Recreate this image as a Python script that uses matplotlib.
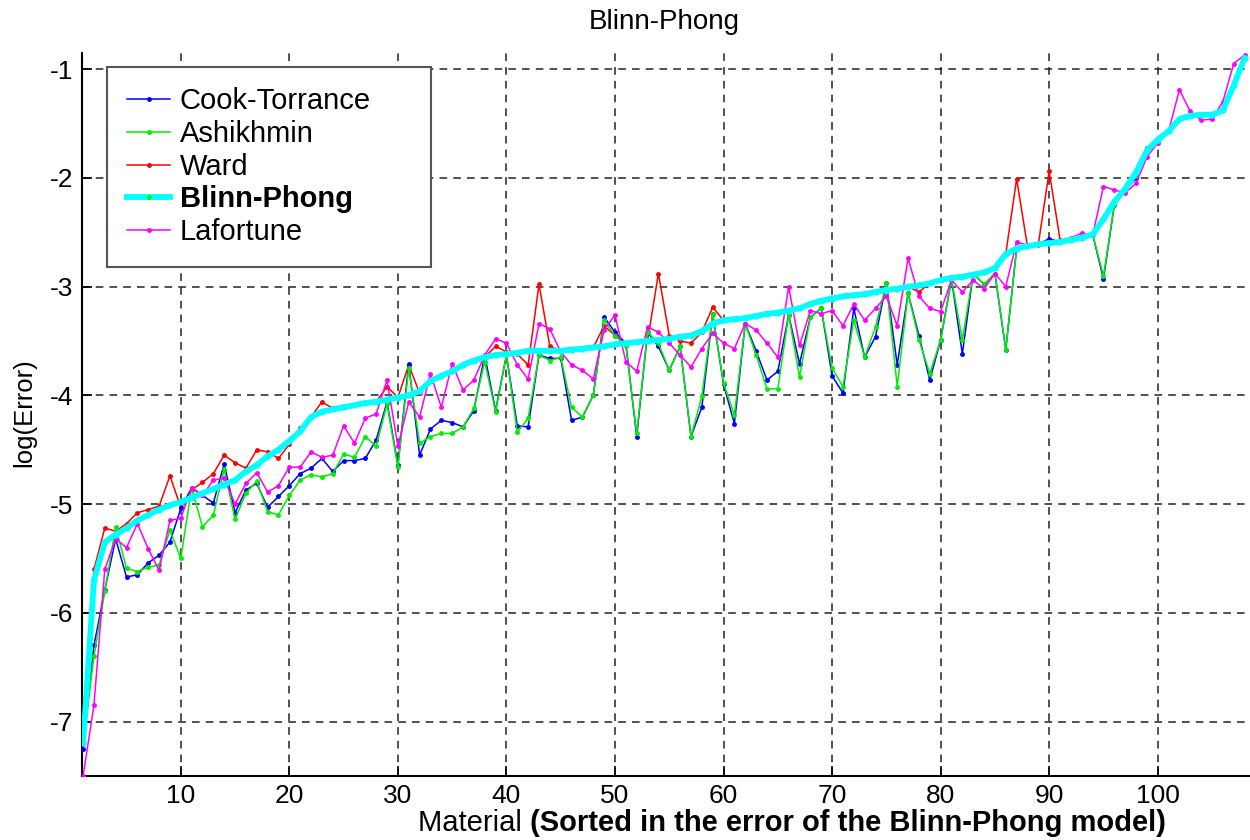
import matplotlib
matplotlib.use("Agg")
import matplotlib.pyplot as plt
from matplotlib.lines import Line2D
import numpy as np

plt.rcParams['font.family'] = ['Liberation Sans', 'DejaVu Sans']
plt.rcParams['axes.unicode_minus'] = False

# materiales ordenados por el error de Blinn-Phong
material = np.arange(1, 109)

cook_torrance = [
    -7.25, -6.30, -5.79, -5.32, -5.67, -5.65, -5.54, -5.47, -5.35, -5.04,
    -4.85, -4.92, -4.99, -4.63, -5.08, -4.87, -4.81, -5.03, -4.93, -4.83,
    -4.72, -4.67, -4.58, -4.70, -4.60, -4.60, -4.58, -4.41, -4.06, -4.64,
    -3.71, -4.55, -4.31, -4.23, -4.25, -4.29, -4.14, -3.63, -4.14, -3.63,
    -4.28, -4.29, -3.63, -3.66, -3.66, -4.23, -4.20, -4.00, -3.28, -3.42,
    -3.52, -4.38, -3.42, -3.55, -3.77, -3.55, -4.38, -4.11, -3.25, -3.90,
    -4.26, -3.34, -3.59, -3.86, -3.78, -3.26, -3.71, -3.28, -3.20, -3.82,
    -3.98, -3.20, -3.65, -3.46, -2.97, -3.72, -3.06, -3.45, -3.86, -3.49,
    -2.93, -3.62, -2.88, -2.98, -2.88, -3.58, -2.65, -2.63, -2.61, -2.56,
    -2.59, -2.57, -2.55, -2.52, -2.93, -2.25, -2.12, -2.00, -1.73, -1.65,
    -1.57, -1.46, -1.43, -1.42, -1.42, -1.38, -1.15, -0.90,
]

ashikhmin = [
    -7.20, -6.40, -5.80, -5.21, -5.59, -5.62, -5.58, -5.56, -5.24, -5.50,
    -4.85, -5.21, -5.10, -4.68, -5.14, -4.90, -4.79, -5.07, -5.10, -4.92,
    -4.78, -4.73, -4.75, -4.72, -4.54, -4.57, -4.38, -4.47, -4.08, -4.66,
    -3.75, -4.44, -4.38, -4.35, -4.35, -4.29, -4.12, -3.69, -4.15, -3.63,
    -4.34, -4.21, -3.63, -3.68, -3.65, -4.11, -4.20, -4.00, -3.31, -3.45,
    -3.55, -4.35, -3.42, -3.52, -3.77, -3.55, -4.38, -4.01, -3.25, -3.89,
    -4.18, -3.34, -3.63, -3.94, -3.94, -3.26, -3.83, -3.28, -3.20, -3.75,
    -3.92, -3.31, -3.65, -3.37, -2.97, -3.92, -3.06, -3.49, -3.80, -3.49,
    -2.93, -3.49, -2.88, -2.98, -2.88, -3.58, -2.65, -2.63, -2.61, -2.60,
    -2.59, -2.57, -2.55, -2.52, -2.90, -2.25, -2.12, -1.98, -1.73, -1.65,
    -1.57, -1.46, -1.43, -1.42, -1.42, -1.38, -1.15, -0.90,
]

ward = [
    -7.10, -5.60, -5.22, -5.25, -5.18, -5.08, -5.05, -5.02, -4.74, -5.03,
    -4.87, -4.80, -4.72, -4.55, -4.62, -4.67, -4.50, -4.52, -4.58, -4.45,
    -4.30, -4.20, -4.06, -4.12, -4.11, -4.09, -4.07, -4.06, -3.92, -4.02,
    -3.72, -3.98, -3.87, -3.82, -3.78, -3.72, -3.68, -3.65, -3.55, -3.60,
    -3.62, -3.72, -2.98, -3.55, -3.59, -3.58, -3.57, -3.56, -3.36, -3.45,
    -3.52, -3.51, -3.50, -2.88, -3.45, -3.50, -3.52, -3.42, -3.19, -3.31,
    -3.30, -3.29, -3.27, -3.25, -3.24, -3.22, -3.20, -3.16, -3.13, -3.11,
    -3.09, -3.08, -3.07, -3.05, -3.03, -3.02, -3.00, -3.05, -2.97, -2.94,
    -2.92, -2.91, -2.89, -2.87, -2.83, -2.70, -2.01, -2.63, -2.61, -1.94,
    -2.57, -2.57, -2.55, -2.52, -2.38, -2.22, -2.10, -1.95, -1.75, -1.65,
    -1.57, -1.46, -1.43, -1.42, -1.42, -1.38, -1.15, -0.90,
]

blinn_phong = [
    -7.20, -5.70, -5.35, -5.28, -5.22, -5.15, -5.10, -5.05, -5.01, -4.98,
    -4.94, -4.90, -4.86, -4.82, -4.78, -4.70, -4.64, -4.56, -4.50, -4.42,
    -4.33, -4.20, -4.15, -4.13, -4.11, -4.09, -4.07, -4.06, -4.04, -4.02,
    -4.00, -3.96, -3.87, -3.82, -3.78, -3.72, -3.68, -3.65, -3.63, -3.62,
    -3.61, -3.59, -3.59, -3.59, -3.59, -3.58, -3.57, -3.56, -3.55, -3.53,
    -3.52, -3.51, -3.50, -3.49, -3.48, -3.46, -3.45, -3.41, -3.34, -3.31,
    -3.30, -3.29, -3.27, -3.25, -3.24, -3.22, -3.20, -3.16, -3.13, -3.11,
    -3.09, -3.08, -3.07, -3.05, -3.03, -3.02, -3.00, -2.99, -2.97, -2.94,
    -2.92, -2.91, -2.89, -2.87, -2.83, -2.70, -2.65, -2.63, -2.61, -2.60,
    -2.59, -2.57, -2.55, -2.52, -2.38, -2.22, -2.10, -1.95, -1.75, -1.65,
    -1.57, -1.46, -1.43, -1.42, -1.42, -1.38, -1.15, -0.90,
]

lafortune = [
    -7.50, -6.85, -5.60, -5.32, -5.40, -5.18, -5.41, -5.61, -5.15, -5.13,
    -4.85, -4.92, -4.78, -4.76, -5.00, -4.81, -4.71, -4.89, -4.83, -4.66,
    -4.66, -4.52, -4.57, -4.55, -4.28, -4.44, -4.21, -4.17, -3.86, -4.47,
    -4.06, -4.20, -3.80, -4.11, -3.71, -3.95, -3.86, -3.63, -3.48, -3.52,
    -3.72, -3.85, -3.34, -3.39, -3.60, -3.72, -3.77, -3.85, -3.40, -3.26,
    -3.69, -3.78, -3.37, -3.42, -3.52, -3.63, -3.74, -3.57, -3.43, -3.52,
    -3.57, -3.34, -3.40, -3.52, -3.65, -3.00, -3.54, -3.22, -3.25, -3.22,
    -3.36, -3.16, -3.31, -3.20, -3.09, -3.36, -2.74, -3.09, -3.20, -3.23,
    -2.94, -3.05, -2.94, -3.02, -2.88, -3.00, -2.59, -2.62, -2.62, -2.60,
    -2.58, -2.55, -2.51, -2.53, -2.08, -2.11, -2.14, -2.05, -1.81, -1.68,
    -1.57, -1.19, -1.39, -1.47, -1.46, -1.30, -0.95, -0.87,
]

x_ticks = [10, 20, 30, 40, 50, 60, 70, 80, 90, 100]
y_ticks = [-7, -6, -5, -4, -3, -2, -1]

fig = plt.figure(figsize=(12.5, 8.4), dpi=100)
ax = fig.add_axes([0.0656, 0.0762, 0.9344, 0.861])

thin = dict(lw=1.1, marker='.', markersize=5)
ax.plot(material, ward, color='#ff0000', zorder=2, **thin)
ax.plot(material, cook_torrance, color='#0000ff', zorder=3, **thin)
ax.plot(material, ashikhmin, color='#00ee00', zorder=4, **thin)
ax.plot(material, lafortune, color='#ff00ff', zorder=5, **thin)
ax.plot(material, blinn_phong, color='#00ffff', lw=4.2, marker='.',
        markersize=7, zorder=6)

ax.set_xlim(0.9, 108.5)
ax.set_ylim(-7.5, -0.85)
ax.set_xticks(x_ticks)
ax.set_yticks(y_ticks)
ax.tick_params(direction='in', length=7, width=1.2, labelsize=19, pad=6)
ax.grid(True, color='#222222', linestyle=(0, (5, 4)), linewidth=1.1)
ax.set_axisbelow(True)
for side in ['top', 'right']:
    ax.spines[side].set_visible(False)
for side in ['left', 'bottom']:
    ax.spines[side].set_linewidth(1.5)

# leyenda
handles = [
    Line2D([], [], color='#0000ff', lw=1.1, marker='.', markersize=5),
    Line2D([], [], color='#00ee00', lw=1.1, marker='.', markersize=5),
    Line2D([], [], color='#ff0000', lw=1.1, marker='.', markersize=5),
    Line2D([], [], color='#00ffff', lw=4.2, marker='.', markersize=5,
           markerfacecolor='#00ee00', markeredgecolor='#00ee00'),
    Line2D([], [], color='#ff00ff', lw=1.1, marker='.', markersize=5),
]
labels = ['Cook-Torrance', 'Ashikhmin', 'Ward', 'Blinn-Phong', 'Lafortune']
leg = ax.legend(handles, labels, loc='upper left', mode='expand',
                bbox_to_anchor=(107 / 1250, 1 - 264 / 840, 324 / 1250,
                                197 / 840),
                bbox_transform=fig.transFigure, fontsize=21, frameon=True,
                fancybox=False, edgecolor='#555555', framealpha=1,
                handlelength=1.45, handletextpad=0.35, labelspacing=0.16,
                borderpad=0.7, borderaxespad=0)
leg.get_frame().set_linewidth(1.5)
leg.set_zorder(10)
leg.get_texts()[3].set_fontweight('bold')

fig.text(664 / 1250, 1 - 22 / 840, 'Blinn-Phong', ha='center', va='center',
         fontsize=20)
fig.text(24 / 1250, 1 - 413 / 840, 'log(Error)', ha='center', va='center',
         rotation=90, fontsize=18.5)

# etiqueta del eje x: parte normal + parte en negrita
t1 = fig.text(418 / 1250, 1 - 831 / 840, 'Material ', ha='left',
              va='baseline', fontsize=21)
ax.annotate('(Sorted in the error of the Blinn-Phong model)', xy=(1, 0),
            xycoords=t1, ha='left', va='bottom', fontsize=21,
            fontweight='bold', annotation_clip=False)

fig.savefig('out.png', dpi=100)
